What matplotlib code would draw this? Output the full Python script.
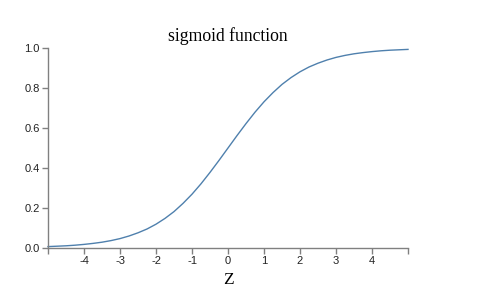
import matplotlib.pyplot as plt

# values
z = [-5.0, -4.75, -4.5, -4.25, -4.0, -3.75, -3.5, -3.25, -3.0, -2.75, -2.5,
     -2.25, -2.0, -1.75, -1.5, -1.25, -1.0, -0.75, -0.5, -0.25, 0.0,
     0.25, 0.5, 0.75, 1.0, 1.25, 1.5, 1.75, 2.0, 2.25, 2.5,
     2.75, 3.0, 3.25, 3.5, 3.75, 4.0, 4.25, 4.5, 4.75, 5.0]
sig = [0.007, 0.009, 0.011, 0.014, 0.018, 0.023, 0.029, 0.037, 0.047, 0.060, 0.076,
       0.095, 0.119, 0.148, 0.182, 0.223, 0.269, 0.321, 0.378, 0.438, 0.500,
       0.562, 0.622, 0.679, 0.731, 0.777, 0.818, 0.852, 0.881, 0.905, 0.924,
       0.940, 0.953, 0.963, 0.971, 0.977, 0.982, 0.986, 0.989, 0.991, 0.993]
xticks = [-5, -4, -3, -2, -1, 0, 1, 2, 3, 4, 5]
xlabels = ["", "-4", "-3", "-2", "-1", "0", "1", "2", "3", "4", ""]
yticks = [0.0, 0.2, 0.4, 0.6, 0.8, 1.0]
ylabels = ["0.0", "0.2", "0.4", "0.6", "0.8", "1.0"]

W, H = 502, 294
fig = plt.figure(figsize=(W / 100, H / 100), dpi=100)
ax = fig.add_axes([48 / W, 1 - 248 / H, 360 / W, 200 / H])

ax.plot(z, sig, color="#4f80ad", lw=1.0, clip_on=False)
ax.set_xlim(-5, 5)
ax.set_ylim(0, 1)

axis_color = "#808080"
for side in ["top", "right"]:
    ax.spines[side].set_visible(False)
for side in ["left", "bottom"]:
    ax.spines[side].set_color(axis_color)
    ax.spines[side].set_linewidth(1.0)

ax.set_xticks(xticks)
ax.set_xticklabels(xlabels)
ax.set_yticks(yticks)
ax.set_yticklabels(ylabels)
ax.tick_params(colors=axis_color, length=4.3, width=1.0, pad=1.5,
               labelcolor="#222222", labelsize=8)
for lab in ax.get_xticklabels() + ax.get_yticklabels():
    lab.set_family("Liberation Sans")

ax.set_title("sigmoid function", family="Liberation Serif", fontsize=12.7, pad=5)
ax.set_xlabel("Z", family="Liberation Serif", fontsize=12.5, labelpad=4)

fig.savefig("out.png", dpi=100)
